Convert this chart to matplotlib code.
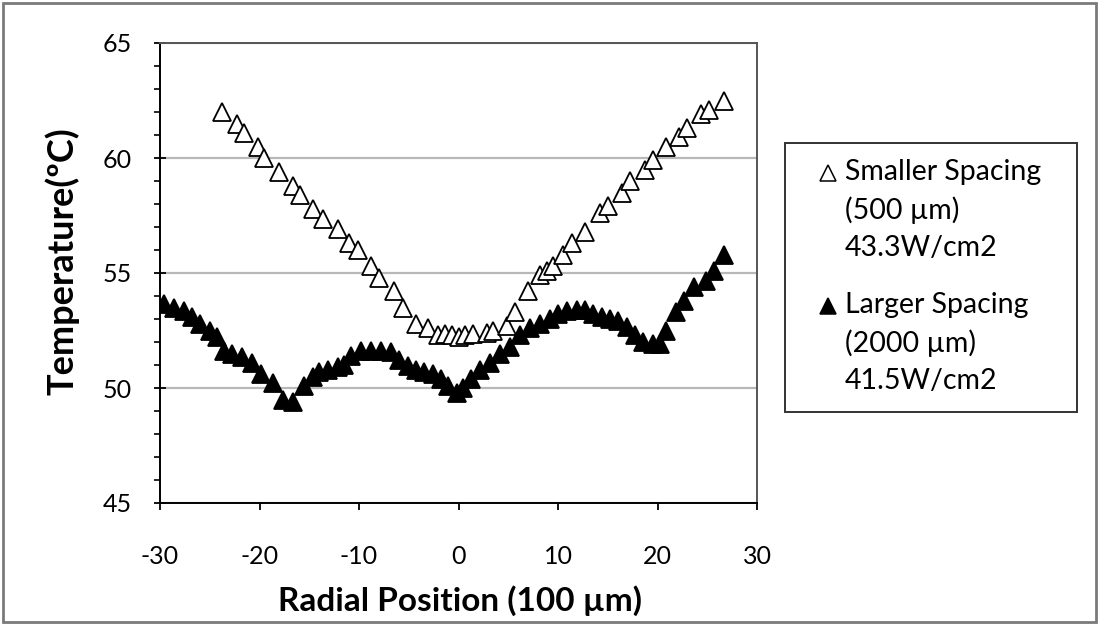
import matplotlib
matplotlib.use("Agg")
import matplotlib.pyplot as plt
from matplotlib.patches import Rectangle
from matplotlib.lines import Line2D
from matplotlib.ticker import MultipleLocator

plt.rcParams['font.family'] = ['Lato', 'DejaVu Sans']
plt.rcParams['axes.unicode_minus'] = False

# smaller spacing (500 um), open triangles
small_x = [-23.8, -22.3, -21.6, -20.2, -19.5, -18.0, -16.6, -15.9, -14.6, -13.6,
           -12.1, -11.0, -10.1, -8.8, -8.0, -6.5, -5.6, -4.3, -3.1, -2.1,
           -1.4, -0.7, 0.0, 0.7, 1.5, 2.9, 3.5, 4.9, 5.7, 7.0,
           8.2, 8.9, 9.5, 10.5, 11.4, 12.7, 14.2, 15.0, 16.4, 17.2,
           18.7, 19.5, 20.9, 22.2, 23.0, 24.4, 25.2, 26.7]
small_t = [62.0, 61.5, 61.1, 60.5, 60.0, 59.4, 58.8, 58.4, 57.8, 57.35,
           56.9, 56.3, 56.0, 55.3, 54.8, 54.2, 53.5, 52.8, 52.6, 52.3,
           52.35, 52.3, 52.2, 52.3, 52.35, 52.4, 52.5, 52.7, 53.3, 54.2,
           54.9, 55.1, 55.3, 55.8, 56.3, 56.8, 57.6, 57.9, 58.5, 59.0,
           59.5, 59.9, 60.5, 60.9, 61.3, 61.9, 62.1, 62.5]

# larger spacing (2000 um), filled triangles
large_x = [-29.6, -28.6, -27.6, -26.8, -26.0, -25.0, -24.3, -23.6, -22.8, -21.8,
           -20.8, -19.8, -18.6, -17.6, -16.6, -15.5, -14.6, -14.0, -13.1, -12.1,
           -11.5, -10.8, -9.8, -8.8, -7.8, -6.8, -6.0, -5.1, -4.3, -3.5,
           -2.6, -1.8, -1.1, -0.2, 0.5, 1.3, 2.2, 3.2, 4.2, 5.2,
           6.2, 7.2, 8.2, 9.2, 10.0, 10.9, 11.9, 12.7, 13.5, 14.4,
           15.2, 16.0, 16.9, 17.7, 18.5, 19.5, 20.3, 20.9, 21.9, 22.7,
           23.7, 24.9, 25.7, 26.7]
large_t = [53.65, 53.5, 53.35, 53.1, 52.8, 52.5, 52.2, 51.6, 51.5, 51.35,
           51.1, 50.6, 50.2, 49.5, 49.4, 50.1, 50.5, 50.7, 50.8, 50.9,
           51.0, 51.4, 51.6, 51.6, 51.6, 51.55, 51.2, 50.95, 50.8, 50.7,
           50.6, 50.4, 50.1, 49.8, 50.0, 50.4, 50.8, 51.1, 51.5, 51.8,
           52.3, 52.6, 52.8, 53.0, 53.2, 53.35, 53.4, 53.4, 53.2, 53.1,
           53.0, 52.9, 52.65, 52.3, 52.0, 51.9, 51.9, 52.5, 53.3, 53.8,
           54.4, 54.65, 55.1, 55.8]

legend_lines = [["Smaller Spacing", "(500 \u00b5m)", "43.3W/cm2"],
                ["Larger Spacing", "(2000 \u00b5m)", "41.5W/cm2"]]

fig = plt.figure(figsize=(10.99, 6.25), dpi=100)
W, H = 1099, 625
ax = fig.add_axes([160 / W, 1 - 503 / H, 597 / W, 460 / H])

ax.plot(small_x, small_t, linestyle='none', marker='^', ms=13,
        mfc='white', mec='black', mew=1.3, zorder=3)
ax.plot(large_x, large_t, linestyle='none', marker='^', ms=13,
        mfc='black', mec='black', mew=1.3, zorder=3)

ax.set_xlim(-30, 30)
ax.set_ylim(45, 65)
ax.set_xticks(range(-30, 31, 10))
ax.set_yticks(range(45, 66, 5))
ax.yaxis.set_minor_locator(MultipleLocator(1))
ax.grid(axis='y', color='#b8b8b8', lw=1.6)
ax.set_axisbelow(True)

for s in ['top', 'right']:
    ax.spines[s].set_color('#555555')
    ax.spines[s].set_linewidth(1.4)
for s in ['left', 'bottom']:
    ax.spines[s].set_color('black')
    ax.spines[s].set_linewidth(1.4)

ax.tick_params(axis='y', which='major', direction='inout', length=9, width=1.3,
               labelsize=18, pad=16)
ax.tick_params(axis='y', which='minor', direction='out', length=4, width=1.2)
ax.tick_params(axis='x', which='major', direction='out', length=5, width=1.3,
               labelsize=18, pad=25)
ax.tick_params(top=False, right=False)

ax.set_xlabel("Radial Position (100 \u00b5m)", fontsize=24, fontweight='bold')
ax.set_ylabel("Temperature(\u00baC)", fontsize=26, fontweight='bold')
ax.xaxis.set_label_coords(0.503, -0.178)
ax.yaxis.set_label_coords(-0.135, 0.525)

# legend box
fig.add_artist(Rectangle((785 / W, 1 - 412 / H), 292 / W, 269 / H,
                         transform=fig.transFigure, fill=False,
                         ec='#333333', lw=1.4))
line_y = [[172, 210, 248], [305, 343, 381]]
marker_fc = ['white', 'black']
for g in range(2):
    fig.add_artist(Line2D([828 / W], [1 - (line_y[g][0] + 1) / H], marker='^',
                          ms=11, mfc=marker_fc[g], mec='black', mew=1.1,
                          linestyle='none', transform=fig.transFigure))
    for k in range(3):
        fig.text(845 / W, 1 - line_y[g][k] / H, legend_lines[g][k],
                 fontsize=20.5, va='center', ha='left')

# outer frame
fig.add_artist(Rectangle((3 / W, 3 / H), 1093 / W, 619 / H,
                         transform=fig.transFigure, fill=False,
                         ec='#7a7a7a', lw=2))

fig.savefig("out.png", dpi=100)
